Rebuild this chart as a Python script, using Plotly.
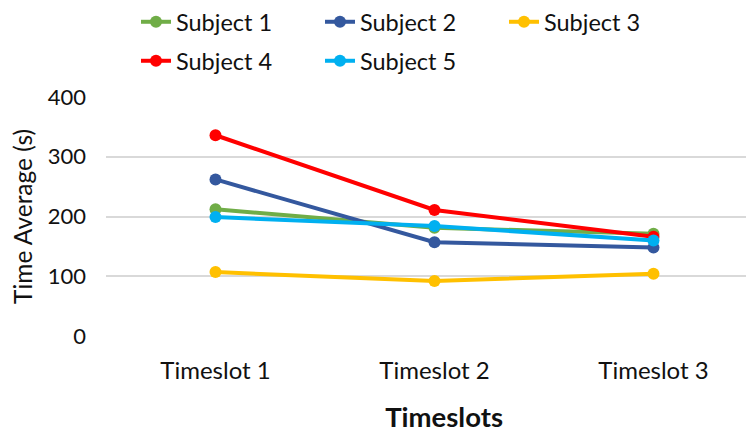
import plotly.graph_objects as go

categories = ["Timeslot 1", "Timeslot 2", "Timeslot 3"]
subject1 = [212, 181, 171]
subject2 = [262, 157, 148]
subject3 = [107, 92, 104]
subject4 = [336, 211, 166]
subject5 = [199, 184, 160]
names = ["Subject 1", "Subject 2", "Subject 3", "Subject 4", "Subject 5"]
colors = ["#70AD47", "#34589E", "#FFC000", "#FF0000", "#00B0F0"]
series = [subject1, subject2, subject3, subject4, subject5]
legend_of = ["legend", "legend", "legend", "legend2", "legend2"]
yticks = [0, 100, 200, 300, 400]

fig = go.Figure()
for name, vals, col, lg in zip(names, series, colors, legend_of):
    fig.add_trace(go.Scatter(
        x=categories, y=vals, name=name, mode="lines+markers",
        line=dict(color=col, width=4), marker=dict(color=col, size=12),
        legend=lg,
    ))

W, H = 746, 426  # page body adds an 8px margin
font_family = "Lato, 'Open Sans', sans-serif"
legend_common = dict(
    orientation="h", xref="container", yref="container",
    xanchor="left", yanchor="middle", entrywidth=139, entrywidthmode="pixels",
    font=dict(size=23.5, color="#111111", family=font_family),
    bgcolor="rgba(0,0,0,0)", itemwidth=30, traceorder="normal",
)
fig.update_layout(
    width=W, height=H,
    margin=dict(l=98, r=0, t=89, b=98, autoexpand=False),
    paper_bgcolor="white", plot_bgcolor="white",
    font=dict(family=font_family, color="#111111"),
    legend=dict(x=128 / W, y=1 - 14 / H, **legend_common),
    legend2=dict(x=128 / W, y=1 - 53 / H, **legend_common),
    xaxis=dict(
        type="category", range=[-0.5, 2.459], showgrid=False, zeroline=False,
        showline=False, ticks="", tickfont=dict(size=24, color="#111111"),
        ticklabelstandoff=18,
        title=dict(text="&nbsp;&nbsp;&nbsp;&nbsp;<b>Timeslots</b>",
                   font=dict(size=27.5, color="#111111"), standoff=24),
    ),
    yaxis=dict(
        range=[0, 400], tickvals=yticks, showgrid=True, gridcolor="#D9D9D9", gridwidth=1.5,
        zeroline=False, showline=False, ticks="", tickfont=dict(size=22, color="#111111"),
        ticklabelstandoff=19,
        title=dict(text="Time Average (s)", font=dict(size=24.5, color="#111111"), standoff=8),
    ),
)
fig.write_html("out.html")
